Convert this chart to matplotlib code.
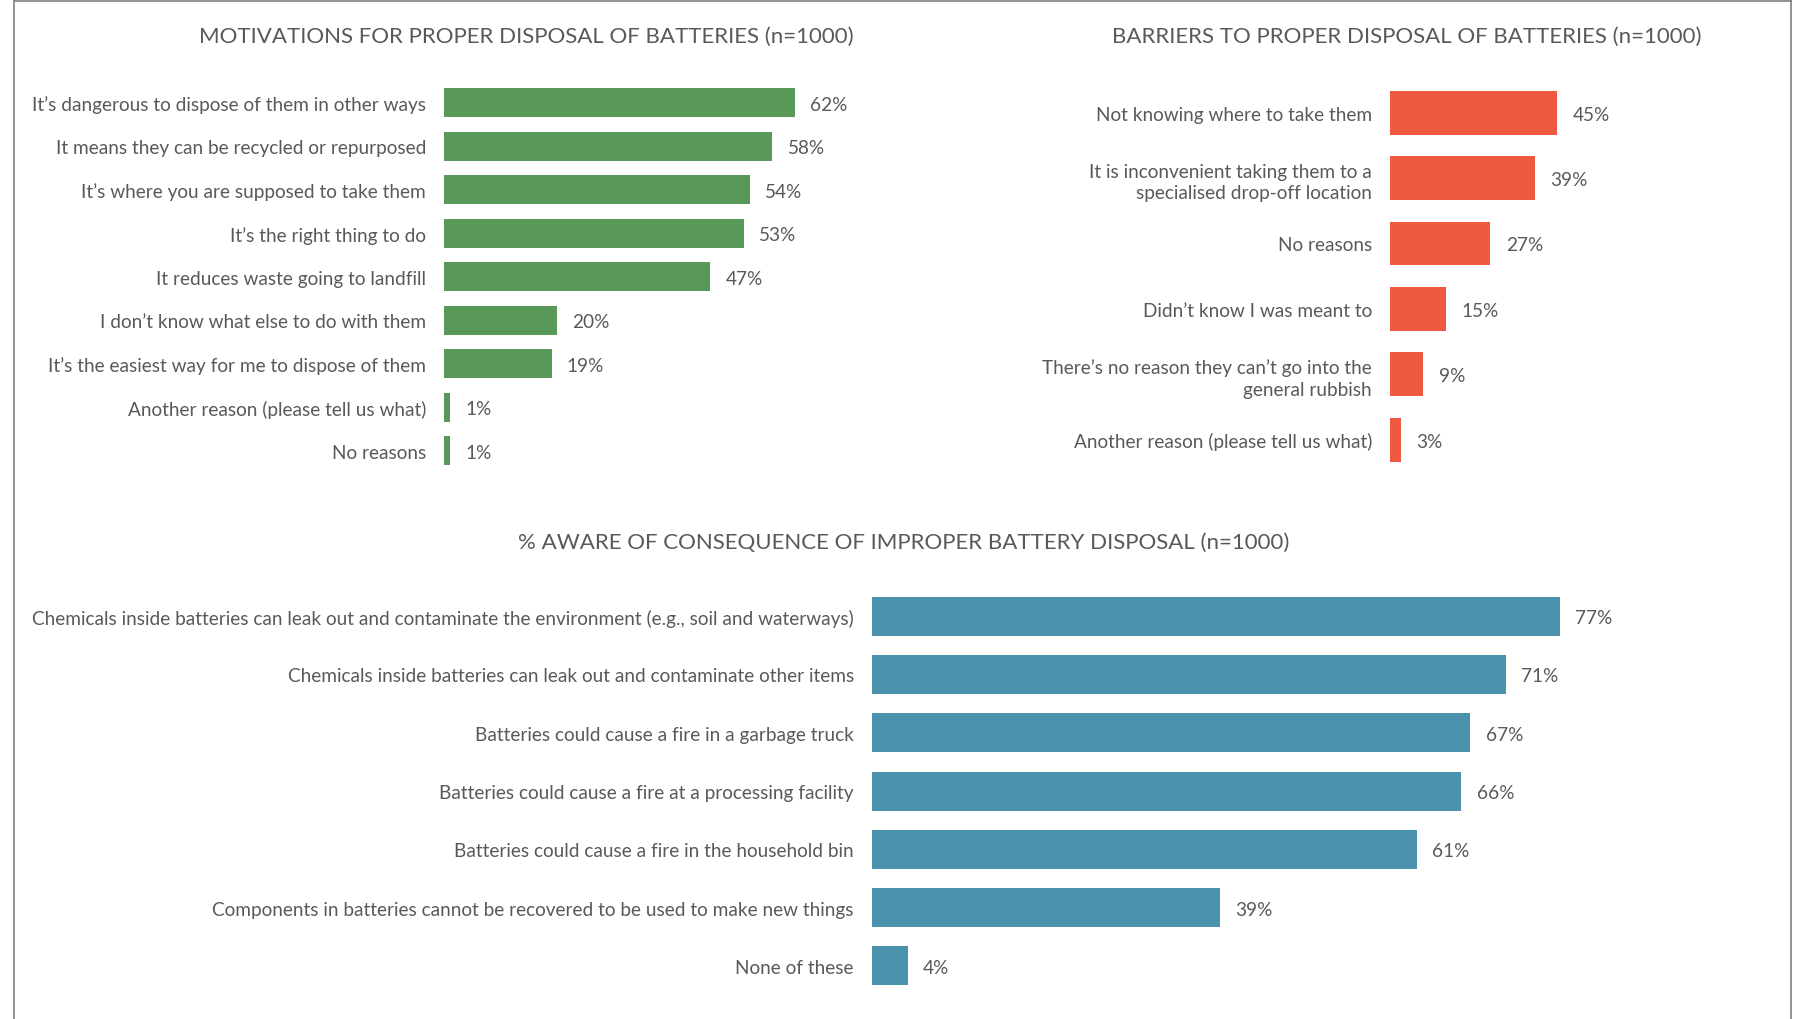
import matplotlib
matplotlib.use("Agg")
import matplotlib.pyplot as plt

plt.rcParams['font.family'] = ['Lato', 'DejaVu Sans']
TXT = '#595959'

# ---- data ----
mot_labels = ["It\u2019s dangerous to dispose of them in other ways",
              "It means they can be recycled or repurposed",
              "It\u2019s where you are supposed to take them",
              "It\u2019s the right thing to do",
              "It reduces waste going to landfill",
              "I don\u2019t know what else to do with them",
              "It\u2019s the easiest way for me to dispose of them",
              "Another reason (please tell us what)",
              "No reasons"]
mot_vals = [62, 58, 54, 53, 47, 20, 19, 1, 1]

bar_labels = ["Not knowing where to take them",
              "It is inconvenient taking them to a\nspecialised drop-off location",
              "No reasons",
              "Didn\u2019t know I was meant to",
              "There\u2019s no reason they can\u2019t go into the\ngeneral rubbish",
              "Another reason (please tell us what)"]
bar_vals = [45, 39, 27, 15, 9, 3]

aw_labels = ["Chemicals inside batteries can leak out and contaminate the environment (e.g., soil and waterways)",
             "Chemicals inside batteries can leak out and contaminate other items",
             "Batteries could cause a fire in a garbage truck",
             "Batteries could cause a fire at a processing facility",
             "Batteries could cause a fire in the household bin",
             "Components in batteries cannot be recovered to be used to make new things",
             "None of these"]
aw_vals = [77, 71, 67, 66, 61, 39, 4]

W, H = 1793, 1020
fig = plt.figure(figsize=(W/100, H/100), dpi=100)

# thin frame lines (left, top, right)
fig.add_artist(plt.Line2D([14/W, 14/W], [0, 1-2/H], color='#7f7f7f', lw=1.2))
fig.add_artist(plt.Line2D([14/W, 1791/W], [1-2/H, 1-2/H], color='#7f7f7f', lw=1.2))
fig.add_artist(plt.Line2D([1791/W, 1791/W], [0, 1-2/H], color='#7f7f7f', lw=1.2))

def panel(x0, pxper, top, spacing, labels, vals, color, title, tx, ty):
    n = len(vals)
    h = n*spacing
    ax = fig.add_axes([x0/W, 1-(top+h)/H, 100*pxper/W, h/H])
    ax.barh(range(n), vals, height=0.67, color=color)
    ax.set_xlim(0, 100)
    ax.set_ylim(n-0.5, -0.5)
    ax.set_yticks(range(n))
    ax.set_yticklabels(labels, fontsize=13.7, color=TXT, linespacing=1.35)
    ax.tick_params(axis='y', length=0, pad=13)
    ax.set_xticks([])
    for s in ax.spines.values():
        s.set_visible(False)
    for i, v in enumerate(vals):
        ax.annotate(f"{v}%", (v, i), xytext=(11, -1), textcoords='offset points',
                    va='center', ha='left', fontsize=13.7, color=TXT)
    fig.text(tx/W, 1-ty/H, title, ha='center', va='center', fontsize=16, color=TXT)

panel(444, 5.66, 82, 43.5, mot_labels, mot_vals, '#589858',
      "MOTIVATIONS FOR PROPER DISPOSAL OF BATTERIES (n=1000)", 526, 37)
panel(1390, 3.72, 81, 65.4, bar_labels, bar_vals, '#EE5A41',
      "BARRIERS TO PROPER DISPOSAL OF BATTERIES (n=1000)", 1407, 37)
panel(872, 8.93, 588, 58.3, aw_labels, aw_vals, '#4B93AD',
      "% AWARE OF CONSEQUENCE OF IMPROPER BATTERY DISPOSAL (n=1000)", 904, 543)

fig.savefig("out.png", dpi=100)
